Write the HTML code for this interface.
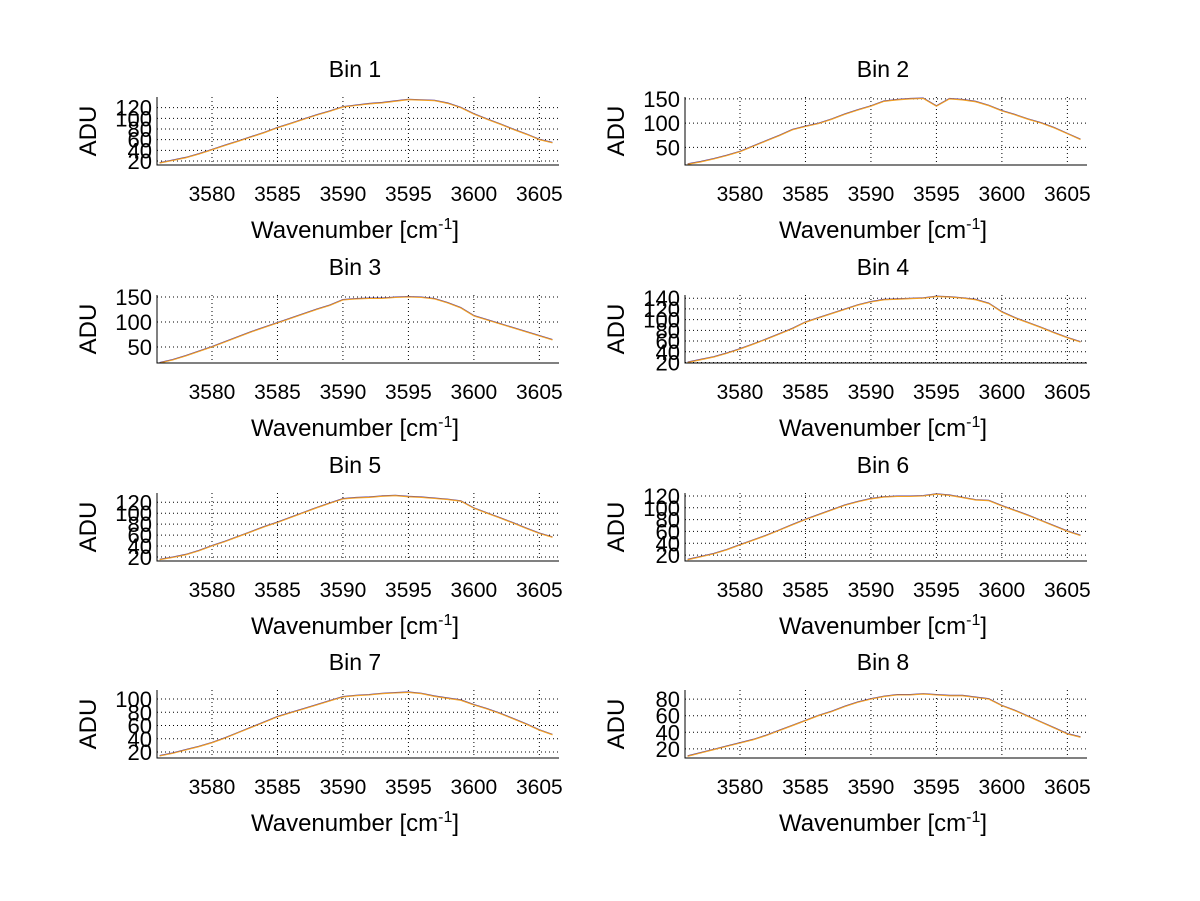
<!DOCTYPE html>
<html><head><meta charset="utf-8"><style>
html,body{margin:0;padding:0;background:#fff;}
svg{display:block;font-family:"Liberation Sans",Arial,sans-serif;}
</style></head><body>
<svg id="fig" width="1200" height="901" viewBox="0 0 1200 901" xmlns="http://www.w3.org/2000/svg"></svg>
<script>
const wavenumbers = [3576,3577,3578,3579,3580,3581,3582,3583,3584,3585,3586,3587,3588,3589,3590,3591,3592,3593,3594,3595,3596,3597,3598,3599,3600,3601,3602,3603,3604,3605,3606];
const xTicks = [3580,3585,3590,3595,3600,3605];
const bin1 = [16,21,26,33,41,49,57,65,73,82,90,98,106,113,121,124,127,129,132,135,134,133,128,120,108,98,89,79,70,60,54];
const bin2 = [15,20,26,33,41,52,63,74,86,93,99,108,118,127,135,145,148,150,151,135,150,148,144,136,125,117,108,100,90,78,66];
const bin3 = [18,24,32,41,50,60,70,80,89,98,107,116,125,133,144,146,147,147,149,150,149,146,138,128,112,104,96,88,80,72,64];
const bin4 = [20,25,30,37,45,54,63,73,83,95,103,111,119,127,133,137,138,139,140,143,142,140,137,130,114,103,94,85,75,66,58];
const bin5 = [15,19,24,31,40,48,57,66,75,83,92,101,110,118,126,128,129,131,132,130,129,127,125,122,109,100,91,82,72,63,56];
const bin6 = [12,17,22,29,37,45,53,62,71,80,88,96,104,110,115,118,119,119,120,123,121,117,113,112,103,95,87,78,69,60,53];
const bin7 = [14,18,23,28,34,41,49,57,65,73,79,85,91,97,103,105,106,108,109,110,108,104,101,98,91,85,78,70,62,53,46];
const bin8 = [11,15,19,23,27,31,36,42,48,54,60,65,71,76,80,83,85,85,86,85,84,84,82,80,72,66,59,52,45,38,34];
const series = [bin1,bin2,bin3,bin4,bin5,bin6,bin7,bin8];
const yTicks1 = [20,40,60,80,100,120];
const yTicks2 = [50,100,150];
const yTicks4 = [20,40,60,80,100,120,140];
const yTicks7 = [20,40,60,80,100];
const yTicks8 = [20,40,60,80];
const yTickSets = [yTicks1,yTicks2,yTicks2,yTicks4,yTicks1,yTicks1,yTicks7,yTicks8];
const yMins = [12.5,13.5,18,19,12.6,10,11,9];
const yMaxs = [140,154,154,146,137,125,113.6,91];

const NS="http://www.w3.org/2000/svg";
const svg=document.getElementById('fig');
function mk(tag,attrs,parent){const e=document.createElementNS(NS,tag);for(const k in attrs)e.setAttribute(k,attrs[k]);(parent||svg).appendChild(e);return e;}
const X0=3575.8,X1=3606.5;
const lefts=[157,685], W=402, tops=[97,295,493,690], H=68;

for(let i=0;i<8;i++){
  const col=i%2,row=Math.floor(i/2);
  const L=lefts[col],T=tops[row],B=T+H,R=L+W;
  const xs=v=>L+(v-X0)/(X1-X0)*W;
  const ys=v=>B-(v-yMins[i])/(yMaxs[i]-yMins[i])*H;
  const g=mk('g',{});
  
  
  xTicks.forEach(t=>{const l=mk('line',{x1:xs(t),x2:xs(t),y1:T,y2:B,stroke:'#000','stroke-width':1,'stroke-dasharray':'1,3'},g);
    });
  yTickSets[i].forEach(t=>{const l=mk('line',{x1:L,x2:R,y1:ys(t),y2:ys(t),stroke:'#000','stroke-width':1,'stroke-dasharray':'1,3'},g);
    });
  const pts=wavenumbers.map((w,k)=>xs(w).toFixed(1)+','+ys(series[i][k]).toFixed(1)).join(' ');
  const pts2=wavenumbers.map((w,k)=>xs(w).toFixed(1)+','+(ys(series[i][k])-0.6).toFixed(1)).join(' ');
  const p2=mk('polyline',{points:pts2,fill:'none',stroke:'#5a3a8e','stroke-width':0.8},g);
  
  const p=mk('polyline',{points:pts,fill:'none',stroke:'#f2a024','stroke-width':1.1},g);
  
  const ax=mk('path',{d:`M${L} ${T}V${B}H${R}`,fill:'none',stroke:'#000','stroke-width':1},g);
  
  xTicks.forEach(t=>{const tx=mk('text',{x:xs(t),y:T+104,'font-size':21,'text-anchor':'middle'},g);tx.textContent=t;
    });
  yTickSets[i].forEach(t=>{const tx=mk('text',{x:L-5,y:ys(t)+8,'font-size':22,'text-anchor':'end'},g);tx.textContent=t;
    });
  const ti=mk('text',{x:L+W/2-3,y:T-20,'font-size':23,'text-anchor':'middle'},g);ti.textContent='Bin '+(i+1);
  
  const xl=mk('text',{x:L+W/2-3,y:T+141,'font-size':24,'text-anchor':'middle'},g);
  xl.innerHTML='Wavenumber [cm<tspan dy="-9" font-size="16">-1</tspan><tspan dy="9">]</tspan>';
  
  const yl=mk('text',{x:0,y:0,'font-size':24,'text-anchor':'middle',transform:`translate(${L-61},${T+H/2}) rotate(-90)`},g);
  yl.textContent='ADU';
  
}
</script>
</body></html>
